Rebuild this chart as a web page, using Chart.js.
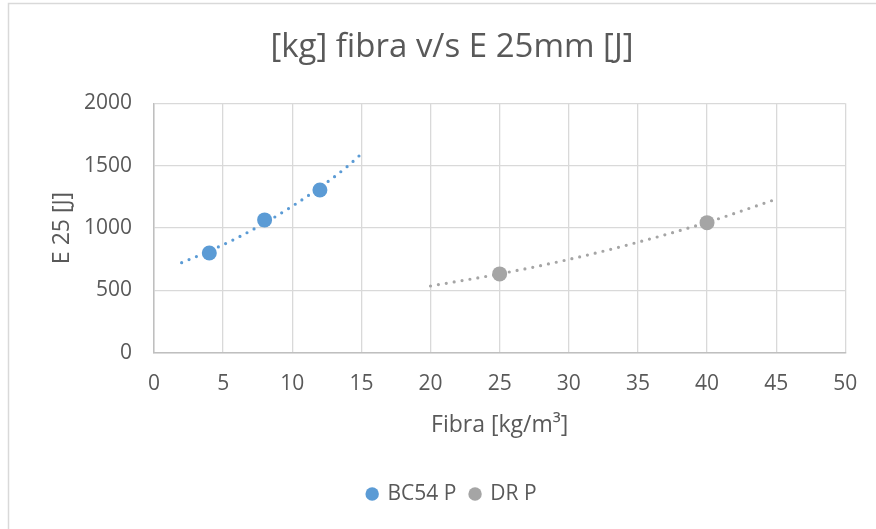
<!DOCTYPE html>
<html>
<head>
<meta charset="utf-8">
<script src="https://cdn.jsdelivr.net/npm/chart.js@4.4.1/dist/chart.umd.min.js"></script>
<style>
  html, body { margin: 0; padding: 0; background: #fff; }
  #wrap { width: 876px; height: 529px; }
</style>
</head>
<body>
<div id="wrap"><canvas id="chart" width="876" height="529"></canvas></div>
<script>
// measured points
const bc54X = [4, 8, 12]
const bc54Y = [800, 1065, 1305]
const drX = [25, 40]
const drY = [632, 1043]

// trendlines
const bc54TrendX = [2, 4, 6, 8, 10, 12, 14, 14.9]
const bc54TrendY = [722, 815, 920, 1040, 1175, 1325, 1495, 1585]
const drTrendX = [20, 25, 30, 35, 40, 44.7]
const drTrendY = [535, 632, 748, 886, 1045, 1220]

const xTicks = [0, 5, 10, 15, 20, 25, 30, 35, 40, 45, 50]
const yTicks = [0, 500, 1000, 1500, 2000]

const seriesNames = ['BC54 P', 'DR P']
const blue = '#5b9bd5'
const grey = '#a5a5a5'
const textColor = '#595959'
const fontFamily = "'Open Sans', 'Liberation Sans', sans-serif"

function toPoints(xs, ys) {
  return xs.map((x, i) => ({ x: x, y: ys[i] }))
}

function trendDataset(xs, ys, color) {
  return {
    label: 'trend',
    data: toPoints(xs, ys),
    showLine: true,
    borderColor: color,
    borderWidth: 3.2,
    borderDash: [0, 8],
    borderCapStyle: 'round',
    cubicInterpolationMode: 'monotone',
    pointRadius: 0,
    pointHoverRadius: 0,
    fill: false,
    order: 2
  }
}

function pointDataset(label, xs, ys, color) {
  return {
    label: label,
    data: toPoints(xs, ys),
    showLine: false,
    backgroundColor: color,
    borderColor: color,
    pointStyle: 'circle',
    pointRadius: 7.5,
    pointBorderWidth: 0,
    order: 1
  }
}

const framePlugin = {
  id: 'frame',
  beforeDraw(chart) {
    const ctx = chart.ctx
    ctx.save()
    ctx.fillStyle = '#fff'
    ctx.fillRect(0, 0, chart.width, chart.height)
    ctx.strokeStyle = '#d9d9d9'
    ctx.lineWidth = 1.5
    ctx.beginPath()
    ctx.moveTo(8.5, chart.height)
    ctx.lineTo(8.5, 3.5)
    ctx.lineTo(chart.width, 3.5)
    ctx.stroke()
    ctx.restore()
  }
}

new Chart(document.getElementById('chart').getContext('2d'), {
  type: 'scatter',
  data: {
    datasets: [
      pointDataset(seriesNames[0], bc54X, bc54Y, blue),
      pointDataset(seriesNames[1], drX, drY, grey),
      trendDataset(bc54TrendX, bc54TrendY, blue),
      trendDataset(drTrendX, drTrendY, grey)
    ]
  },
  options: {
    responsive: false,
    animation: false,
    layout: {
      padding: { left: 56, right: 28, top: 0, bottom: 14.5 }
    },
    plugins: {
      title: {
        display: true,
        text: '[kg] fibra v/s E 25mm [J]',
        color: textColor,
        font: { family: fontFamily, size: 33, weight: 'normal' },
        padding: { top: 28.2, bottom: 35.5 }
      },
      legend: {
        position: 'bottom',
        labels: {
          color: textColor,
          font: { family: fontFamily, size: 21 },
          usePointStyle: true,
          pointStyle: 'circle',
          boxWidth: 9.5,
          boxHeight: 9.5,
          padding: 14,
          filter: item => seriesNames.includes(item.text)
        }
      },
      tooltip: { enabled: false }
    },
    scales: {
      x: {
        type: 'linear',
        min: 0,
        max: 50,
        afterBuildTicks: axis => {
          axis.ticks = xTicks.map(v => ({ value: v }))
        },
        afterFit: axis => {
          axis.height = 116.8
        },
        grid: { color: '#d9d9d9', lineWidth: 1.3, drawTicks: false },
        border: { color: '#bfbfbf', width: 1.5 },
        ticks: {
          color: textColor,
          font: { family: fontFamily, size: 21 },
          padding: 18.7,
          maxRotation: 0
        },
        title: {
          display: true,
          text: 'Fibra [kg/m³]',
          color: textColor,
          font: { family: fontFamily, size: 23 },
          padding: { top: 0, bottom: 30.7 }
        }
      },
      y: {
        type: 'linear',
        min: 0,
        max: 2000,
        afterBuildTicks: axis => {
          axis.ticks = yTicks.map(v => ({ value: v }))
        },
        afterFit: axis => {
          axis.width = 98
        },
        grid: { color: '#d9d9d9', lineWidth: 1.3, drawTicks: false },
        border: { color: '#bfbfbf', width: 1.5 },
        ticks: {
          color: textColor,
          font: { family: fontFamily, size: 21 },
          padding: 22,
          callback: v => String(v)
        },
        title: {
          display: true,
          text: 'E 25 [J]',
          color: textColor,
          font: { family: fontFamily, size: 23 },
          padding: { top: -7.8, bottom: 0 }
        }
      }
    }
  },
  plugins: [framePlugin]
})
</script>
</body>
</html>
